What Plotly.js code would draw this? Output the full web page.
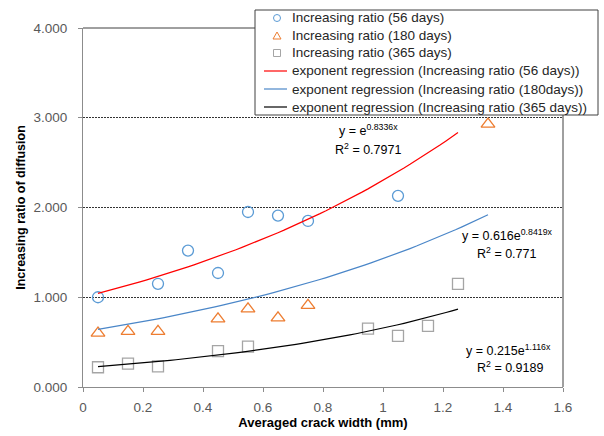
<!DOCTYPE html>
<html>
<head>
<meta charset="utf-8">
<script src="https://cdn.plot.ly/plotly-3.0.1.min.js"></script>
<style>html,body{margin:0;padding:0;background:#fff;}#chart{width:604px;height:436px;}</style>
</head>
<body>
<div id="chart"></div>
<script>
// Observed data
const crack56 = [0.05, 0.25, 0.35, 0.45, 0.55, 0.65, 0.75, 1.05];
const ratio56 = [1.00, 1.15, 1.52, 1.27, 1.95, 1.91, 1.85, 2.13];
const crack180 = [0.05, 0.15, 0.25, 0.45, 0.55, 0.65, 0.75, 1.35];
const ratio180 = [0.60, 0.62, 0.62, 0.76, 0.87, 0.77, 0.91, 2.93];
const crack365 = [0.05, 0.15, 0.25, 0.45, 0.55, 0.95, 1.05, 1.15, 1.25];
const ratio365 = [0.22, 0.26, 0.23, 0.40, 0.45, 0.65, 0.57, 0.68, 1.15];

// Regression coefficients (y = a * e^(b x)) and fitted range, as shown on the chart
const fit56 = [1.0, 0.8336];
const fit180 = [0.616, 0.8419];
const fit365 = [0.215, 1.116];
const range56 = [0.05, 1.25];
const range180 = [0.05, 1.35];
const range365 = [0.05, 1.25];

const seriesNames = ['Increasing ratio (56 days)', 'Increasing ratio (180 days)', 'Increasing ratio (365 days)'];
const fitNames = ['exponent regression (Increasing ratio (56 days))',
                  'exponent regression (Increasing ratio (180days))',
                  'exponent regression (Increasing ratio (365 days))'];
const eqTexts = ['y = e<sup>0.8336x</sup>', 'y = 0.616e<sup>0.8419x</sup>', 'y = 0.215e<sup>1.116x</sup>'];
const r2Texts = ['R<sup>2</sup> = 0.7971', 'R<sup>2</sup> = 0.771', 'R<sup>2</sup> = 0.9189'];

function curve(fit, rng) {
  const xs = [], ys = [];
  const n = 60;
  for (let i = 0; i <= n; i++) {
    const x = rng[0] + (rng[1] - rng[0]) * i / n;
    xs.push(x); ys.push(fit[0] * Math.exp(fit[1] * x));
  }
  return {x: xs, y: ys};
}
const c56 = curve(fit56, range56), c180 = curve(fit180, range180), c365 = curve(fit365, range365);

const FONT = 'Liberation Sans, Arial, sans-serif';
const COL = {c56: '#5B9BD5', c180: '#ED7D31', c365: '#A5A5A5', f56: '#FF0000', f180: '#4A86C8', f365: '#000000'};

const traces = [
  {x: crack56, y: ratio56, name: seriesNames[0], mode: 'markers', type: 'scatter',
   marker: {symbol: 'circle-open', size: 11, color: COL.c56, line: {width: 1.3}}},
  {x: crack180, y: ratio180, name: seriesNames[1], mode: 'markers', type: 'scatter',
   marker: {symbol: 'triangle-up-open', size: 12, color: COL.c180, line: {width: 1.3}}},
  {x: crack365, y: ratio365, name: seriesNames[2], mode: 'markers', type: 'scatter',
   marker: {symbol: 'square-open', size: 11, color: COL.c365, line: {width: 1.3}}},
  {x: c56.x, y: c56.y, name: fitNames[0], mode: 'lines', type: 'scatter', line: {color: COL.f56, width: 1.2}},
  {x: c180.x, y: c180.y, name: fitNames[1], mode: 'lines', type: 'scatter', line: {color: COL.f180, width: 1.2}},
  {x: c365.x, y: c365.y, name: fitNames[2], mode: 'lines', type: 'scatter', line: {color: COL.f365, width: 1.2}}
];

// Plot area geometry (pixels) used to place the boxed legend
const M = {l: 83, r: 41, t: 28, b: 49};
const PW = 604 - M.l - M.r, PH = 436 - M.t - M.b;
const px = v => (v - M.l) / PW;
const py = v => (436 - M.b - v) / PH;

const legRows = [18, 35.5, 53, 71, 89, 107];
const legNames = seriesNames.concat(fitNames);
const symX = 277;

const shapes = [
  {type: 'line', xref: 'paper', yref: 'paper', x0: 0, x1: 1, y0: 1, y1: 1, line: {color: '#404040', width: 1}},
  {type: 'line', xref: 'paper', yref: 'paper', x0: 1, x1: 1, y0: 0, y1: 1, line: {color: '#404040', width: 1}},
  {type: 'rect', xref: 'paper', yref: 'paper', x0: px(255), x1: px(598), y0: py(115), y1: py(10),
   fillcolor: '#fff', line: {color: '#404040', width: 1}},
  {type: 'circle', xref: 'paper', yref: 'paper', xsizemode: 'pixel', ysizemode: 'pixel',
   xanchor: px(symX), yanchor: py(legRows[0]), x0: -3.5, x1: 3.5, y0: -3.5, y1: 3.5, line: {color: COL.c56, width: 1}},
  {type: 'path', xref: 'paper', yref: 'paper', xsizemode: 'pixel', ysizemode: 'pixel',
   xanchor: px(symX), yanchor: py(legRows[1]), path: 'M -4 -3.5 L 4 -3.5 L 0 3.5 Z', line: {color: COL.c180, width: 1}},
  {type: 'rect', xref: 'paper', yref: 'paper', xsizemode: 'pixel', ysizemode: 'pixel',
   xanchor: px(symX), yanchor: py(legRows[2]), x0: -3.5, x1: 3.5, y0: -3.5, y1: 3.5, line: {color: COL.c365, width: 1}},
  {type: 'line', xref: 'paper', yref: 'paper', x0: px(264), x1: px(287), y0: py(legRows[3]), y1: py(legRows[3]), line: {color: COL.f56, width: 1.2}},
  {type: 'line', xref: 'paper', yref: 'paper', x0: px(264), x1: px(287), y0: py(legRows[4]), y1: py(legRows[4]), line: {color: COL.f180, width: 1.2}},
  {type: 'line', xref: 'paper', yref: 'paper', x0: px(264), x1: px(287), y0: py(legRows[5]), y1: py(legRows[5]), line: {color: COL.f365, width: 1.2}}
];

const annFont = {family: FONT, size: 12.5, color: '#000'};
const annotations = [
  {x: 0.95, y: 2.865, xref: 'x', yref: 'y', text: eqTexts[0], showarrow: false, font: annFont},
  {x: 0.95, y: 2.65, xref: 'x', yref: 'y', text: r2Texts[0], showarrow: false, font: annFont},
  {x: 1.413, y: 1.69, xref: 'x', yref: 'y', text: eqTexts[1], showarrow: false, font: annFont},
  {x: 1.41, y: 1.49, xref: 'x', yref: 'y', text: r2Texts[1], showarrow: false, font: annFont},
  {x: 1.417, y: 0.41, xref: 'x', yref: 'y', text: eqTexts[2], showarrow: false, font: annFont},
  {x: 1.423, y: 0.22, xref: 'x', yref: 'y', text: r2Texts[2], showarrow: false, font: annFont}
];
legNames.forEach((n, i) => annotations.push({
  xref: 'paper', yref: 'paper', x: px(290), y: py(legRows[i]), xanchor: 'left', yanchor: 'middle',
  text: n, showarrow: false, font: {family: FONT, size: 13.5, color: '#262626'}
}));

const layout = {
  width: 604, height: 436,
  margin: M,
  paper_bgcolor: '#fff', plot_bgcolor: '#fff',
  font: {family: FONT, size: 12, color: '#595959'},
  showlegend: false,
  xaxis: {range: [0, 1.6], dtick: 0.2, tick0: 0, showgrid: false, zeroline: false,
          showline: true, linecolor: '#8c8c8c', linewidth: 1,
          ticks: 'outside', ticklen: 4, tickcolor: '#8c8c8c', ticklabelstandoff: 4,
          tickfont: {family: FONT, size: 13.5, color: '#595959'},
          title: {text: '<b>Averaged crack width (mm)</b>', font: {family: FONT, size: 13, color: '#000'}, standoff: 3}},
  yaxis: {range: [0, 4], dtick: 1, tick0: 0, tickformat: '.3f', showgrid: true,
          gridcolor: '#333', griddash: '2px,1px', gridwidth: 1, zeroline: false,
          showline: true, linecolor: '#8c8c8c', linewidth: 1,
          ticks: 'outside', ticklen: 4, tickcolor: '#8c8c8c', ticklabelstandoff: 8,
          tickfont: {family: FONT, size: 13.5, color: '#595959'},
          title: {text: '<b>Increasing ratio of diffusion</b>', font: {family: FONT, size: 12.5, color: '#000'}, standoff: 5}},
  shapes: shapes,
  annotations: annotations
};

Plotly.newPlot('chart', traces, layout, {displayModeBar: false, staticPlot: true});
</script>
</body>
</html>
